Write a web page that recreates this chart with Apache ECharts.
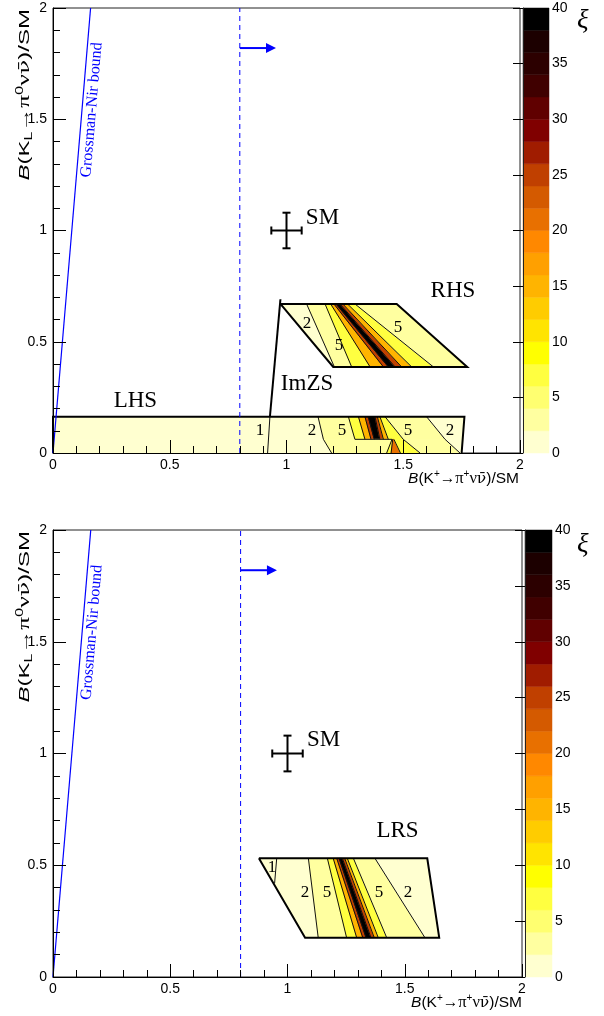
<!DOCTYPE html>
<html>
<head>
<meta charset="utf-8">
<script src="https://cdn.jsdelivr.net/npm/echarts@6/dist/echarts.min.js"></script>
<style>
  html, body { margin: 0; padding: 0; background: #fff; }
  #chart { width: 604px; height: 1016px; }
</style>
</head>
<body>
<div id="chart"></div>
<script>
// ---------- axes ----------
const BR_RANGE = [0, 2];          // both branching-ratio axes, in units of the SM value
const BR_STEP = 0.5;
const XI_RANGE = [0, 40];
const XI_TICK_STEP = 5;

// ξ colour scale: 20 bins of width 2 (lower edges) and their colours
const XI_BINS = [0, 2, 4, 6, 8, 10, 12, 14, 16, 18, 20, 22, 24, 26, 28, 30, 32, 34, 36, 38];
const XI_COLORS = ['#ffffd0', '#ffffa0', '#ffff70', '#ffff40', '#ffff00', '#ffe400', '#ffcc00',
  '#ffb400', '#ffa000', '#ff8800', '#e87000', '#d45a00', '#c04000', '#a01c00', '#800000',
  '#600000', '#400000', '#2c0000', '#1c0000', '#000000'];

// ---------- allowed regions ----------
// Each strip: y of its rows (top → bottom), x of every band edge at those rows,
// the ξ level on each edge (null = region border) and ξ inside each band.
const LHS_UPPER_Y = [0.163, 0.0615];
const LHS_UPPER_EDGES = [[0, 0], [1.135, 1.158], [1.265, 1.293], [1.308, 1.336], [1.336, 1.362],
  [1.350, 1.376], [1.379, 1.400], [1.389, 1.415], [1.400, 1.436], [1.422, 1.500], [1.600, 1.679], [1.762, 1.757]];
const LHS_UPPER_LEVELS = [null, 2, 5, 10, 20, 30, 30, 20, 10, 5, 2, null];
const LHS_UPPER_XI = [1, 3.5, 7, 15, 25, 39, 25, 15, 7, 3.5, 1];

const LHS_LOWER_Y = [0.0615, 0];
const LHS_LOWER_EDGES = [[0, 0], [1.158, 1.193], [1.452, 1.429], [1.455, 1.448], [1.460, 1.488],
  [1.500, 1.572], [1.679, 1.743], [1.757, 1.750]];
const LHS_LOWER_LEVELS = [null, 2, 5, 10, 10, 5, 2, null];
const LHS_LOWER_XI = [1, 3.5, 7, 20, 7, 3.5, 1];

const RHS_Y = [0.670, 0.387];
const RHS_EDGES = [[0.974, 1.200], [1.086, 1.205], [1.165, 1.279], [1.189, 1.358], [1.203, 1.415],
  [1.212, 1.436], [1.229, 1.465], [1.241, 1.493], [1.261, 1.536], [1.293, 1.629], [1.472, 1.774]];
const RHS_LEVELS = [null, 2, 5, 10, 20, 30, 30, 20, 10, 5, null];
const RHS_XI = [1, 3.5, 7, 15, 25, 39, 25, 15, 7, 3.5];

const LRS_Y = [0.531, 0.176];
const LRS_EDGES = [[0.878, 1.075], [1.089, 1.131], [1.170, 1.252], [1.195, 1.295], [1.210, 1.321],
  [1.220, 1.335], [1.234, 1.356], [1.244, 1.370], [1.255, 1.387], [1.281, 1.423], [1.373, 1.586], [1.596, 1.647]];
const LRS_LEVELS = [null, 2, 5, 10, 20, 30, 30, 20, 10, 5, 2, null];
const LRS_XI = [1, 3.5, 7, 15, 25, 39, 25, 15, 7, 3.5, 1];

// contour pieces that are not band edges (ξ = 1 lines, the ξ = 5 step in LHS)
const EXTRA_CONTOURS_TOP = [[[0.929, 0.163], [0.919, 0]], [[1.293, 0.0615], [1.452, 0.0615]]];
const EXTRA_CONTOURS_BOTTOM = [[[0.954, 0.531], [0.945, 0.419]]];
const DRAWN_LEVELS = [1, 2, 5, 10, 20, 30];

// region borders and the ImZS line
const LHS_BORDER = [[0, 0], [0, 0.163], [1.762, 0.163], [1.750, 0]];
const RHS_BORDER = [[0.974, 0.670], [1.472, 0.670], [1.774, 0.387], [1.200, 0.387], [0.974, 0.670]];
const IMZS_LINE = [[0.929, 0.163], [0.974, 0.691]];
const LRS_BORDER = [[0.878, 0.531], [1.596, 0.531], [1.647, 0.176], [1.075, 0.176], [0.878, 0.531]];

// contour labels: x, y, ξ level
const CONTOUR_LABELS_TOP = [[0.887, 0.103, 1], [1.109, 0.103, 2], [1.238, 0.103, 5], [1.520, 0.103, 5],
  [1.700, 0.103, 2], [1.088, 0.584, 2], [1.225, 0.485, 5], [1.478, 0.562, 5]];
const CONTOUR_LABELS_BOTTOM = [[0.934, 0.488, 1], [1.075, 0.376, 2], [1.168, 0.376, 5],
  [1.390, 0.376, 5], [1.514, 0.376, 2]];

// scenario names: text, x, y
const NAMES_TOP = [['SM', 1.154, 1.056], ['RHS', 1.713, 0.728], ['LHS', 0.353, 0.234], ['ImZS', 1.088, 0.310]];
const NAMES_BOTTOM = [['SM', 1.154, 1.060], ['LRS', 1.469, 0.653]];

// Standard Model point and its uncertainties
const SM_POINT = [1, 1];
const SM_ERR = [0.065, 0.08];

// Grossman-Nir bound and the measured K+ lower limit
const GN_BOUND = [[0, 0], [0.161, 2]];
const GN_LABEL = ['Grossman-Nir bound', 0.166, 1.542];
const KPLUS_LIMIT = 0.8;
const ARROW = [[0.8, 1.82], [0.955, 1.82]];

// ---------- helpers ----------
const SANS = 'Liberation Sans';
const SERIF = 'Liberation Serif';

function xiColor(v) {
  let idx = 0;
  XI_BINS.forEach((lo, i) => { if (v >= lo) idx = i; });
  return XI_COLORS[idx];
}

function bandSeries(regions, ax) {
  const data = [];
  regions.forEach((r, ri) => r.xi.forEach((v, bi) => data.push([ri, bi, v])));
  return {
    type: 'custom', xAxisIndex: ax, yAxisIndex: ax, z: 2, silent: true, data,
    renderItem(params, api) {
      const r = regions[api.value(0)];
      const b = api.value(1);
      const pts = r.y.map((y, k) => api.coord([r.edges[b][k], y]));
      for (let k = r.y.length - 1; k >= 0; k--) pts.push(api.coord([r.edges[b + 1][k], r.y[k]]));
      const c = xiColor(api.value(2));
      return { type: 'polygon', shape: { points: pts }, style: { fill: c, stroke: c, lineWidth: 0.7 } };
    }
  };
}

function polylineSeries(lines, ax, width, color, z) {
  return {
    type: 'custom', xAxisIndex: ax, yAxisIndex: ax, z, silent: true,
    data: lines.map((l, i) => [i]),
    renderItem(params, api) {
      const pts = lines[api.value(0)].map(p => api.coord(p));
      return { type: 'polyline', shape: { points: pts }, style: { stroke: color, lineWidth: width, fill: null } };
    }
  };
}

function contourLines(regions, extras) {
  const lines = [];
  regions.forEach(r => r.levels.forEach((lv, ei) => {
    if (DRAWN_LEVELS.includes(lv)) lines.push(r.y.map((y, k) => [r.edges[ei][k], y]));
  }));
  return lines.concat(extras);
}

function textSeries(items, ax, font, color, rotationDeg) {
  return {
    type: 'custom', xAxisIndex: ax, yAxisIndex: ax, z: 6, silent: true,
    data: items.map((t, i) => [t[1], t[2], i]),
    renderItem(params, api) {
      const p = api.coord([api.value(0), api.value(1)]);
      const t = items[api.value(2)];
      return {
        type: 'text', x: p[0], y: p[1], rotation: (rotationDeg || 0) * Math.PI / 180,
        style: { text: String(t[0]), font, fill: color, align: 'center', verticalAlign: 'middle' }
      };
    }
  };
}

function smSeries(ax) {
  return {
    type: 'custom', xAxisIndex: ax, yAxisIndex: ax, z: 6, silent: true,
    data: [[SM_POINT[0], SM_POINT[1], SM_ERR[0], SM_ERR[1]]],
    renderItem(params, api) {
      const x = api.value(0), y = api.value(1), ex = api.value(2), ey = api.value(3);
      const l = api.coord([x - ex, y]), r = api.coord([x + ex, y]);
      const t = api.coord([x, y + ey]), b = api.coord([x, y - ey]);
      const cap = 4;
      const st = { stroke: '#000', lineWidth: 2 };
      const seg = (x1, y1, x2, y2) => ({ type: 'line', shape: { x1, y1, x2, y2 }, style: st });
      return { type: 'group', children: [
        seg(l[0], l[1], r[0], r[1]), seg(t[0], t[1], b[0], b[1]),
        seg(l[0], l[1] - cap, l[0], l[1] + cap), seg(r[0], r[1] - cap, r[0], r[1] + cap),
        seg(t[0] - cap, t[1], t[0] + cap, t[1]), seg(b[0] - cap, b[1], b[0] + cap, b[1])
      ] };
    }
  };
}

function arrowSeries(ax) {
  return {
    type: 'custom', xAxisIndex: ax, yAxisIndex: ax, z: 6, silent: true,
    data: [[ARROW[0][0], ARROW[0][1], ARROW[1][0], ARROW[1][1]]],
    renderItem(params, api) {
      const a = api.coord([api.value(0), api.value(1)]);
      const b = api.coord([api.value(2), api.value(3)]);
      const head = 10, half = 5;
      return { type: 'group', children: [
        { type: 'line', shape: { x1: a[0], y1: a[1], x2: b[0] - head + 1, y2: b[1] }, style: { stroke: '#0000ff', lineWidth: 2 } },
        { type: 'polygon', shape: { points: [[b[0], b[1]], [b[0] - head, b[1] - half], [b[0] - head, b[1] + half]] }, style: { fill: '#0000ff' } }
      ] };
    }
  };
}

function boundSeries(ax) {
  return [
    { type: 'line', xAxisIndex: ax, yAxisIndex: ax, z: 5, silent: true, data: GN_BOUND, showSymbol: false,
      lineStyle: { color: '#0000ff', width: 1.2 } },
    { type: 'line', xAxisIndex: ax, yAxisIndex: ax, z: 5, silent: true,
      data: [[KPLUS_LIMIT, BR_RANGE[0]], [KPLUS_LIMIT, BR_RANGE[1]]], showSymbol: false,
      lineStyle: { color: '#0000ff', width: 1, type: [5, 4] } }
  ];
}

function colourBarSeries(ax) {
  return {
    type: 'custom', xAxisIndex: ax, yAxisIndex: ax, z: 2, silent: true,
    data: XI_BINS.map((lo, i) => [lo, lo + 2, i]),
    renderItem(params, api) {
      const p0 = api.coord([0, api.value(0)]), p1 = api.coord([1, api.value(1)]);
      const c = XI_COLORS[api.value(2)];
      return { type: 'rect', shape: { x: p0[0], y: p1[1], width: p1[0] - p0[0], height: p0[1] - p1[1] },
        style: { fill: c, stroke: c, lineWidth: 0.5 } };
    }
  };
}

function mainXAxis(gridIndex) {
  return {
    type: 'value', gridIndex, min: BR_RANGE[0], max: BR_RANGE[1], interval: BR_STEP, z: 10,
    axisLine: { show: true, onZero: false, lineStyle: { color: '#000', width: 1 } },
    axisTick: { show: true, inside: true, length: 13, lineStyle: { color: '#000' } },
    minorTick: { show: true, splitNumber: 5, length: 7, lineStyle: { color: '#000' } },
    splitLine: { show: false }, minorSplitLine: { show: false },
    axisLabel: { margin: 5, fontSize: 14, fontFamily: SANS, color: '#000' }
  };
}
function mainYAxis(gridIndex) {
  const a = mainXAxis(gridIndex);
  a.axisLabel = { margin: 6, fontSize: 14, fontFamily: SANS, color: '#000' };
  return a;
}
function barXAxis(gridIndex) {
  return { type: 'value', gridIndex, min: 0, max: 1, show: false };
}
function barYAxis(gridIndex) {
  return {
    type: 'value', gridIndex, position: 'right', min: XI_RANGE[0], max: XI_RANGE[1], interval: XI_TICK_STEP, z: 10,
    axisLine: { show: true, lineStyle: { color: '#222', width: 1 } },
    axisTick: { show: true, inside: true, length: 10, lineStyle: { color: '#000' } },
    splitLine: { show: false },
    axisLabel: { margin: 3, fontSize: 14, fontFamily: SANS, color: '#000' }
  };
}

const P1_REGIONS = [
  { y: LHS_UPPER_Y, edges: LHS_UPPER_EDGES, levels: LHS_UPPER_LEVELS, xi: LHS_UPPER_XI },
  { y: LHS_LOWER_Y, edges: LHS_LOWER_EDGES, levels: LHS_LOWER_LEVELS, xi: LHS_LOWER_XI },
  { y: RHS_Y, edges: RHS_EDGES, levels: RHS_LEVELS, xi: RHS_XI }
];
const P2_REGIONS = [{ y: LRS_Y, edges: LRS_EDGES, levels: LRS_LEVELS, xi: LRS_XI }];

function titleRich(fs) {
  return {
    i: { fontStyle: 'italic', fontSize: fs, fontFamily: SANS },
    g: { fontSize: fs + 1, fontFamily: SERIF },
    nb: { fontSize: fs, fontFamily: 'DejaVu Serif' },
    sup: { fontSize: Math.round(fs * 0.65), fontFamily: SANS, padding: [0, 0, 9, 0] },
    sub: { fontSize: Math.round(fs * 0.65), fontFamily: SANS, padding: [9, 0, 0, 0] }
  };
}
const X_TITLE = '{i|B}(K{sup|+}→{g|π}{sup|+}{g|ν}{nb|ν̄})/SM';
const Y_TITLE = '{i|B}(K{sub|L}→{g|π}{sup|0}{g|ν}{nb|ν̄})/SM';

function titleText(text, x, y, rotated, fs, stretch) {
  return {
    type: 'text', x, y, rotation: rotated ? Math.PI / 2 : 0, scaleX: stretch || 1, silent: true,
    style: { text, rich: titleRich(fs), fontSize: fs, fontFamily: SANS, fill: '#000',
      align: 'right', verticalAlign: 'middle' }
  };
}
function xiSymbol(x, y) {
  return { type: 'text', x, y, silent: true,
    style: { text: 'ξ', font: 'italic 27px "Liberation Serif"', fill: '#000', align: 'left', verticalAlign: 'middle' } };
}

const gridBase = { show: true, borderColor: '#222', borderWidth: 1, backgroundColor: 'transparent',
  containLabel: false, outerBoundsMode: 'none' };

const option = {
  backgroundColor: '#fff',
  animation: false,
  grid: [
    Object.assign({ left: 53, top: 8, width: 467, height: 445 }, gridBase),
    Object.assign({}, gridBase, { left: 523, top: 8, width: 26, height: 445, show: false }),
    Object.assign({ left: 53, top: 530, width: 469, height: 447 }, gridBase),
    Object.assign({}, gridBase, { left: 525, top: 530, width: 27, height: 447, show: false })
  ],
  xAxis: [mainXAxis(0), barXAxis(1), mainXAxis(2), barXAxis(3)],
  yAxis: [mainYAxis(0), barYAxis(1), mainYAxis(2), barYAxis(3)],
  graphic: [
    titleText(X_TITLE, 519, 479, false, 15.5, 1),
    titleText(Y_TITLE, 25, 9, true, 15, 1.6),
    titleText(X_TITLE, 522, 1003, false, 15.5, 1),
    titleText(Y_TITLE, 25, 531, true, 15, 1.6),
    xiSymbol(577, 21),
    xiSymbol(577, 545)
  ],
  series: [
    bandSeries(P1_REGIONS, 0),
    polylineSeries(contourLines(P1_REGIONS, EXTRA_CONTOURS_TOP), 0, 1, '#111', 3),
    polylineSeries([LHS_BORDER, RHS_BORDER, IMZS_LINE], 0, 2, '#000', 4),
    ...boundSeries(0),
    arrowSeries(0),
    smSeries(0),
    textSeries(CONTOUR_LABELS_TOP.map(c => [c[2], c[0], c[1]]), 0, '17px "Liberation Serif"', '#000'),
    textSeries(NAMES_TOP, 0, '23px "Liberation Serif"', '#000'),
    textSeries([GN_LABEL], 0, '16px "Liberation Serif"', '#0000ff', 85.2),
    colourBarSeries(1),

    bandSeries(P2_REGIONS, 2),
    polylineSeries(contourLines(P2_REGIONS, EXTRA_CONTOURS_BOTTOM), 2, 1, '#111', 3),
    polylineSeries([LRS_BORDER], 2, 2, '#000', 4),
    ...boundSeries(2),
    arrowSeries(2),
    smSeries(2),
    textSeries(CONTOUR_LABELS_BOTTOM.map(c => [c[2], c[0], c[1]]), 2, '17px "Liberation Serif"', '#000'),
    textSeries(NAMES_BOTTOM, 2, '23px "Liberation Serif"', '#000'),
    textSeries([GN_LABEL], 2, '16px "Liberation Serif"', '#0000ff', 85.2),
    colourBarSeries(3)
  ]
};

const chart = echarts.init(document.getElementById('chart'));
chart.setOption(option);
</script>
</body>
</html>
